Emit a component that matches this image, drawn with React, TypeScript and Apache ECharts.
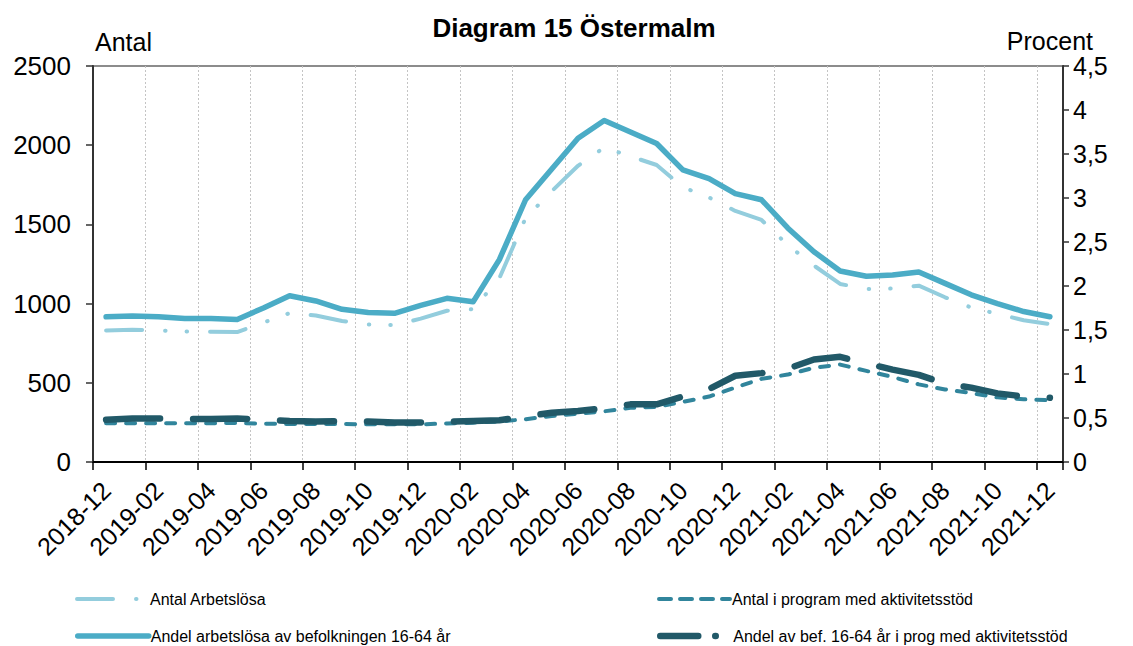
import { useEffect, useRef } from "react";
import * as echarts from "echarts";

const categories = [
  "2018-12",
  "2019-01", "2019-02", "2019-03", "2019-04", "2019-05", "2019-06",
  "2019-07", "2019-08", "2019-09", "2019-10", "2019-11", "2019-12",
  "2020-01", "2020-02", "2020-03", "2020-04", "2020-05", "2020-06",
  "2020-07", "2020-08", "2020-09", "2020-10", "2020-11", "2020-12",
  "2021-01", "2021-02", "2021-03", "2021-04", "2021-05", "2021-06",
  "2021-07", "2021-08", "2021-09", "2021-10", "2021-11", "2021-12",
];

const antalArbetslosa = [
  830, 835, 830, 824, 822, 820, 880, 940, 925, 890, 868, 865, 905,
  955, 965, 1160, 1540, 1710, 1870, 1985, 1930, 1875, 1735, 1670, 1585,
  1528, 1370, 1240, 1124, 1092, 1095, 1113, 1040, 975, 935, 895, 870,
];

const antalIProgram = [
  244, 245, 244, 244, 245, 246, 242, 240, 240, 240, 238, 238, 238,
  243, 248, 256, 270, 290, 305, 320, 342, 348, 380, 413, 470,
  525, 552, 595, 615, 575, 537, 490, 458, 435, 408, 396, 390,
];

const andelArbetslosa = [
  1.65, 1.66, 1.65, 1.63, 1.63, 1.62, 1.75, 1.89, 1.83, 1.735, 1.7, 1.69, 1.78,
  1.86, 1.82, 2.3, 2.98, 3.33, 3.68, 3.88, 3.75, 3.62, 3.32, 3.22, 3.05,
  2.98, 2.66, 2.39, 2.17, 2.11, 2.125, 2.16, 2.03, 1.9, 1.8, 1.71, 1.65,
];

const andelIProgram = [
  0.48, 0.495, 0.495, 0.49, 0.49, 0.495, 0.48, 0.465, 0.46, 0.465, 0.46, 0.45, 0.45,
  0.46, 0.465, 0.475, 0.52, 0.56, 0.58, 0.61, 0.655, 0.655, 0.745, 0.83, 0.98,
  1.01, 1.06, 1.165, 1.195, 1.12, 1.05, 0.99, 0.89, 0.845, 0.78, 0.745, 0.73,
];

const FONT = "'Liberation Sans', Arial, sans-serif";

const S1 = "Antal Arbetslösa";
const S2 = "Antal i program med aktivitetsstöd";
const S3 = "Andel arbetslösa av befolkningen 16-64 år";
const S4 = "Andel av bef. 16-64 år i prog med aktivitetsstöd";

const C1 = "#93CDDD";
const C2 = "#31859C";
const C3 = "#4BACC6";
const C4 = "#215968";

function legendFor(name: string, left: number, top: number, width: number, type?: any) {
  const lineStyle: any = { width };
  if (type) lineStyle.type = type;
  return {
    data: [name],
    left,
    top,
    orient: "horizontal",
    itemWidth: 71,
    itemHeight: 14,
    itemGap: 0,
    selectedMode: false,
    itemStyle: { color: "rgba(0,0,0,0)", borderWidth: 0 },
    lineStyle,
    textStyle: { fontSize: 16, color: "#000", fontFamily: FONT, lineHeight: 16, padding: [0, 0, 0, -3] },
  };
}

export default function App() {
  const ref = useRef<HTMLDivElement>(null);

  useEffect(() => {
    const chart = echarts.init(ref.current!, null, { renderer: "svg" });
    chart.setOption({
      animation: false,
      backgroundColor: "#fff",
      textStyle: { fontFamily: FONT },
      grid: {
        left: 93,
        right: 70,
        top: 66,
        bottom: 184,
        show: true,
        borderColor: "#8c8c8c",
        borderWidth: 2,
      },
      graphic: [
        {
          type: "text",
          x: 574,
          y: 28,
          style: {
            text: "Diagram 15 Östermalm",
            fontFamily: FONT,
            fontSize: 26,
            fontWeight: "bold",
            fill: "#000",
            textAlign: "center",
            textVerticalAlign: "middle",
          },
        },
        {
          type: "text",
          x: 95,
          y: 42,
          style: {
            text: "Antal",
            fontFamily: FONT,
            fontSize: 25,
            fill: "#000",
            textAlign: "left",
            textVerticalAlign: "middle",
          },
        },
        {
          type: "text",
          x: 1093,
          y: 41,
          style: {
            text: "Procent",
            fontFamily: FONT,
            fontSize: 25,
            fill: "#000",
            textAlign: "right",
            textVerticalAlign: "middle",
          },
        },
      ],
      legend: [
        legendFor(S1, 70, 586, 4),
        legendFor(S2, 652, 586, 4, [12, 9]),
        legendFor(S3, 70, 623, 5.5),
        legendFor(S4, 652, 623, 6.5, [38, 17, 0.5, 17]),
      ],
      xAxis: {
        type: "category",
        data: categories,
        boundaryGap: true,
        axisLine: { show: true, lineStyle: { color: "#000", width: 2 } },
        axisTick: { show: true, interval: 1, length: 8, lineStyle: { color: "#000", width: 1.5 } },
        axisLabel: {
          interval: 1,
          rotate: 45,
          fontSize: 25,
          color: "#000",
          margin: 24,
          fontFamily: FONT,
        },
        splitLine: {
          show: true,
          interval: 1,
          lineStyle: { color: "#c4c4c4", width: 1, type: [2, 2] },
        },
      },
      yAxis: [
        {
          type: "value",
          position: "left",
          min: 0,
          max: 2500,
          interval: 500,
          axisLine: { show: true, lineStyle: { color: "#333", width: 2 } },
          axisTick: { show: true, length: 7, lineStyle: { color: "#333", width: 1.5 } },
          axisLabel: {
            fontSize: 26,
            color: "#000",
            margin: 22,
            fontFamily: FONT,
            formatter: (v: number) => String(v),
          },
          splitLine: { show: false },
        },
        {
          type: "value",
          position: "right",
          min: 0,
          max: 4.5,
          interval: 0.5,
          axisLine: { show: true, lineStyle: { color: "#333", width: 2 } },
          axisTick: { show: true, length: 6, lineStyle: { color: "#333", width: 1.5 } },
          axisLabel: {
            fontSize: 25,
            color: "#000",
            margin: 10,
            fontFamily: FONT,
            formatter: (v: number) => String(v).replace(".", ","),
          },
          splitLine: { show: false },
        },
      ],
      series: [
        {
          name: S1,
          type: "line",
          yAxisIndex: 0,
          data: antalArbetslosa,
          symbol: "none",
          color: C1,
          lineStyle: {
            color: C1,
            width: 4,
            type: [36, 23, 0.5, 21, 0.5, 23],
            cap: "round",
            join: "round",
          },
        },
        {
          name: S2,
          type: "line",
          yAxisIndex: 0,
          data: antalIProgram,
          symbol: "none",
          color: C2,
          lineStyle: { color: C2, width: 4, type: [9, 11], cap: "round", join: "round" },
        },
        {
          name: S3,
          type: "line",
          yAxisIndex: 1,
          data: andelArbetslosa,
          symbol: "none",
          color: C3,
          lineStyle: { color: C3, width: 5.5, type: "solid", cap: "round", join: "round" },
        },
        {
          name: S4,
          type: "line",
          yAxisIndex: 1,
          data: andelIProgram,
          symbol: "none",
          color: C4,
          lineStyle: {
            color: C4,
            width: 6.5,
            type: [54, 33],
            cap: "round",
            join: "round",
          },
        },
      ],
    });
    return () => chart.dispose();
  }, []);

  return (
    <div
      ref={ref}
      style={{ position: "fixed", left: 0, top: 0, width: 1133, height: 646 }}
    />
  );
}
